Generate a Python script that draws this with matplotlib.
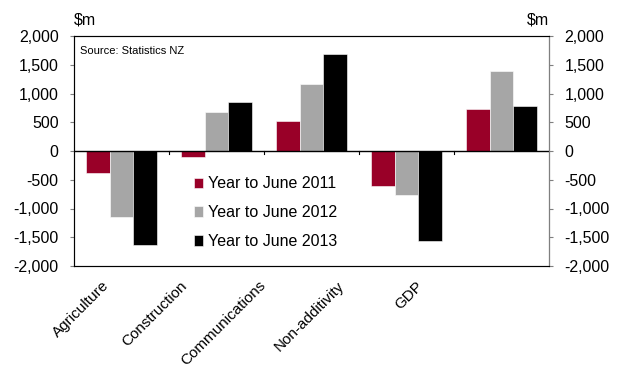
import matplotlib

matplotlib.use("Agg")
import matplotlib.pyplot as plt
import numpy as np
from matplotlib.transforms import ScaledTranslation

plt.rcParams["font.family"] = ["Liberation Sans", "DejaVu Sans"]

categories = ["Agriculture", "Construction", "Communications", "Non-additivity", "GDP"]
series_labels = ["Year to June 2011", "Year to June 2012", "Year to June 2013"]
y2011 = [-380, -100, 520, -600, 730]
y2012 = [-1150, 670, 1170, -760, 1390]
y2013 = [-1640, 860, 1690, -1560, 780]
yticks = [-2000, -1500, -1000, -500, 0, 500, 1000, 1500, 2000]

colors = ["#990028", "#a6a6a6", "#000000"]
axis_col = "#7f7f7f"

fig = plt.figure(figsize=(6.2, 3.72), dpi=100, facecolor="white")
ax = fig.add_axes([74 / 620, 1 - 266 / 372, (549 - 74) / 620, (266 - 36) / 372])

x = np.arange(len(categories))
width = 0.25
for i, (vals, lab, col) in enumerate(zip([y2011, y2012, y2013], series_labels, colors)):
    ax.bar(x + (i - 1) * width, vals, width=width, color=col, label=lab,
           edgecolor="white", linewidth=0.4, zorder=2)

ax.set_xlim(-0.5, len(categories) - 0.5)
ax.set_ylim(-2000, 2000)
ax.set_yticks(yticks)
ax.set_yticklabels([f"{v:,}" for v in yticks], fontsize=11.5)
ax.tick_params(axis="y", direction="out", length=3, color=axis_col, pad=8)

# the category labels sit progressively left of their groups in the original
ax.set_xticks(x)
ax.set_xticklabels(categories, rotation=45, ha="right", rotation_mode="anchor", fontsize=11)
ax.tick_params(axis="x", length=0, pad=9)
for i, lbl in enumerate(ax.get_xticklabels()):
    dx = -(20 + 16.5 * i) / 100
    lbl.set_transform(lbl.get_transform() + ScaledTranslation(dx, 0, fig.dpi_scale_trans))

# zero line with small ticks at category boundaries
ax.axhline(0, color="black", linewidth=1.0, zorder=3)
for b in x[:-1] + 0.5:
    ax.plot([b, b], [0, -60], color="black", linewidth=0.8, zorder=3)

for sp in ax.spines.values():
    sp.set_color("#404040")
    sp.set_linewidth(0.8)

ax2 = ax.twinx()
ax2.set_ylim(-2000, 2000)
ax2.set_yticks(yticks)
ax2.set_yticklabels([f"{v:,}" for v in yticks], fontsize=11.5)
ax2.tick_params(axis="y", direction="out", length=3, color=axis_col, pad=8)
ax2.spines["right"].set_color(axis_col)

fig.text(74 / 620, 1 - 20 / 372, "$m", fontsize=11.5, ha="left", va="center")
fig.text(549 / 620, 1 - 20 / 372, "$m", fontsize=11.5, ha="right", va="center")
ax.text(0.012, 0.955, "Source: Statistics NZ", transform=ax.transAxes, fontsize=8,
        ha="left", va="top")

ax.legend(loc="upper left", bbox_to_anchor=(0.252, 0.39), frameon=False, fontsize=11.5,
          handlelength=0.6, handleheight=0.6, handletextpad=0.3, labelspacing=0.87,
          borderaxespad=0, borderpad=0)

fig.savefig("out.png", dpi=100, facecolor="white")
